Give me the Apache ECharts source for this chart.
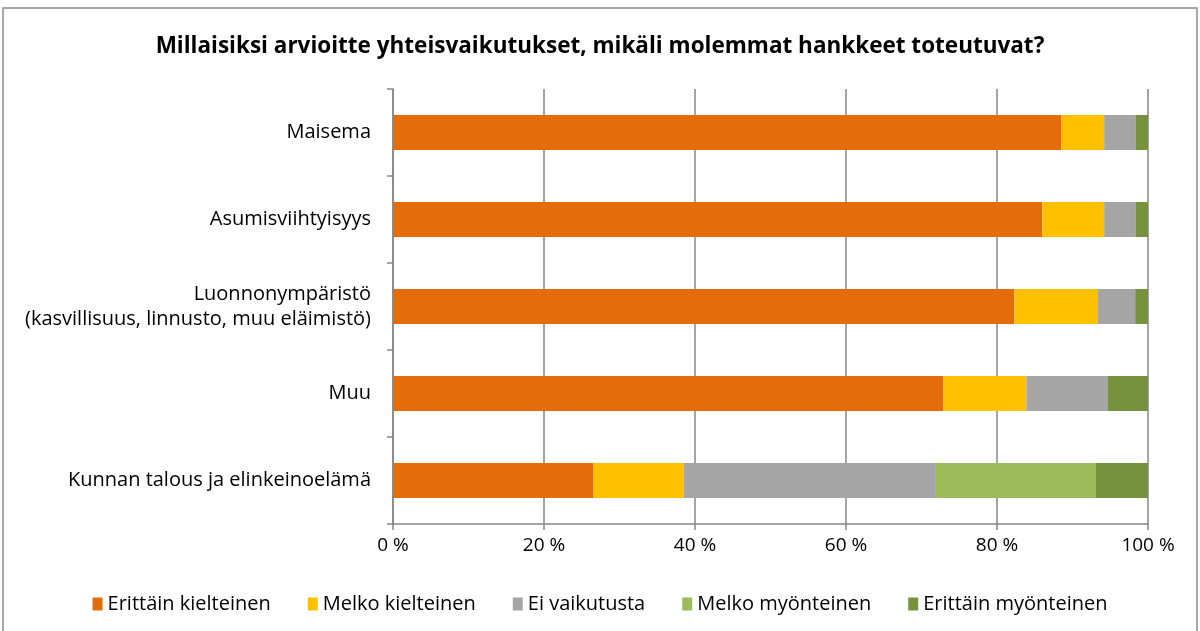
<!DOCTYPE html>
<html><head><meta charset="utf-8">
<script src="https://cdn.jsdelivr.net/npm/echarts@6/dist/echarts.min.js"></script>
<style>html,body{margin:0;padding:0;background:#fff}#c{width:1200px;height:631px}</style>
</head><body><div id="c"></div>
<script>
const categories = ["Maisema","Asumisviihtyisyys","Luonnonympäristö\n(kasvillisuus, linnusto, muu eläimistö)","Muu","Kunnan talous ja elinkeinoelämä"];
const seriesNames = ["Erittäin kielteinen","Melko kielteinen","Ei vaikutusta","Melko myönteinen","Erittäin myönteinen"];
const erittainKielteinen = [88.5, 86.0, 82.3, 72.9, 26.5];
const melkoKielteinen = [5.7, 8.2, 11.0, 11.0, 12.0];
const eiVaikutusta = [4.2, 4.2, 5.0, 10.8, 33.3];
const melkoMyonteinen = [0, 0, 0, 0, 21.3];
const erittainMyonteinen = [1.6, 1.6, 1.7, 5.3, 6.9];
const xTicks = [0, 20, 40, 60, 80, 100];
const colors = ["#E46C0A","#FFC000","#A5A5A5","#9BBB59","#76923C"];
const values = [erittainKielteinen, melkoKielteinen, eiVaikutusta, melkoMyonteinen, erittainMyonteinen];

const font = "'Open Sans', 'Liberation Sans', sans-serif";
const chart = echarts.init(document.getElementById('c'));
chart.setOption({
  animation: false,
  color: colors,
  title: {
    text: "Millaisiksi arvioitte yhteisvaikutukset, mikäli molemmat hankkeet toteutuvat?",
    left: 'center', top: 30,
    textStyle: { fontFamily: font, fontWeight: 'bold', fontSize: 22.5, color: '#000' }
  },
  graphic: [{ type: 'rect', shape: { x: 3, y: 8, width: 1194, height: 640 }, style: { fill: 'none', stroke: '#8c8c8c', lineWidth: 1.5 } }],
  legend: {
    bottom: 12, left: 'center', itemWidth: 10, itemHeight: 13, itemGap: 37,
    icon: 'rect',
    textStyle: { fontFamily: font, fontSize: 20, color: '#000' },
    data: seriesNames
  },
  grid: { left: 393, right: 52, top: 89, bottom: 107, containLabel: false },
  xAxis: {
    type: 'value', min: 0, max: 100, interval: 20,
    axisLine: { show: true, lineStyle: { color: '#868686', width: 1.5 } },
    axisTick: { show: true, length: 6, lineStyle: { color: '#868686', width: 1.5 } },
    splitLine: { show: true, lineStyle: { color: '#868686', width: 1.5 } },
    axisLabel: { formatter: v => xTicks.includes(v) ? v + ' %' : '', fontFamily: font, fontSize: 19, color: '#000', margin: 12 }
  },
  yAxis: {
    type: 'category', inverse: true, data: categories,
    axisLine: { show: true, lineStyle: { color: '#868686', width: 1.5 } },
    axisTick: { show: true, length: 6, lineStyle: { color: '#868686', width: 1.5 } },
    axisLabel: { fontFamily: font, fontSize: 20, color: '#000', margin: 22, align: 'right', lineHeight: 25 }
  },
  series: seriesNames.map((n, i) => ({
    name: n, type: 'bar', stack: 'all', barWidth: 35,
    data: values[i],
    itemStyle: { color: colors[i] }
  }))
});
</script></body></html>
